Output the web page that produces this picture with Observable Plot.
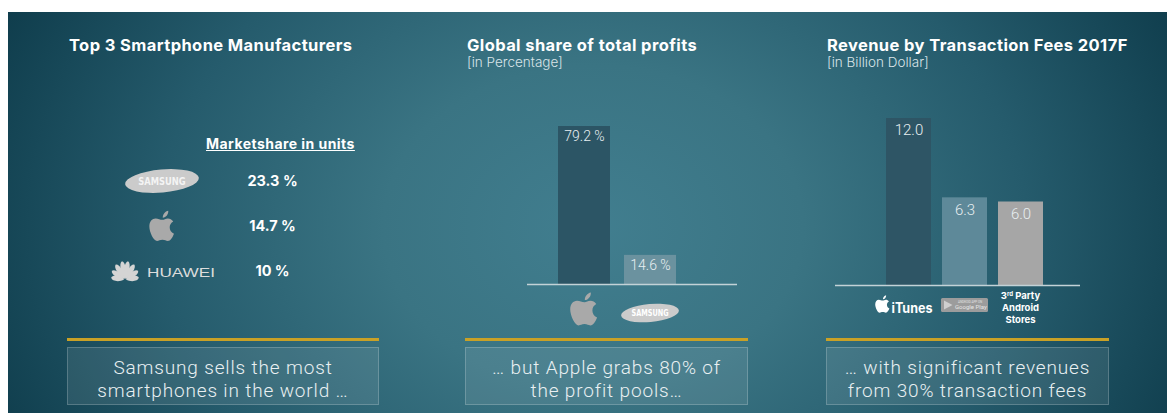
<!DOCTYPE html>
<html><head><meta charset="utf-8">
<script src="https://cdn.jsdelivr.net/npm/d3@7"></script>
<script src="https://cdn.jsdelivr.net/npm/@observablehq/plot@0.6"></script>
<style>
html,body{margin:0;padding:0;background:#fff;}
#root{position:relative;width:1167px;height:413px;overflow:hidden;background:#fff;font-family:Inter,"Noto Sans",sans-serif;}
#bg{position:absolute;left:8px;top:12px;width:1159px;height:401px;
 background:radial-gradient(ellipse 700px 540px at 585px 215px,#417e8f 0%,#3a7483 30%,#255b6c 62%,#0a3645 100%);}
.abs{position:absolute;}
.title{position:absolute;color:#fff;font-weight:700;font-size:16.5px;letter-spacing:0.4px;white-space:nowrap;line-height:18px;}
.sub{position:absolute;color:#d9e4e8;font-weight:300;font-size:13.5px;white-space:nowrap;line-height:14px;}
.gold{position:absolute;height:3px;background:#c9a126;}
.box{position:absolute;box-sizing:border-box;border:1px solid rgba(255,255,255,0.2);background:rgba(255,255,255,0.09);
 color:#e9f0f2;font-family:Roboto,sans-serif;font-weight:300;font-size:19px;letter-spacing:0.85px;line-height:23px;text-align:center;padding-top:8px;white-space:nowrap;}
.hdr{position:absolute;color:#fff;font-weight:700;font-size:14px;text-decoration:underline;white-space:nowrap;letter-spacing:0.45px;line-height:17px;}
</style></head><body>
<div id="root"><div id="bg"></div></div>
<script>
// ---- data ----
const panelTitles = ["Top 3 Smartphone Manufacturers", "Global share of total profits", "Revenue by Transaction Fees 2017F"];
const panelSubtitles = ["", "[in Percentage]", "[in Billion Dollar]"];
const takeaways = [
  ["Samsung sells the most", "smartphones in the world …"],
  ["… but Apple grabs 80% of", "the profit pools…"],
  ["… with significant revenues", "from 30% transaction fees"]
];
const unitHeader = "Marketshare in units";
const unitBrands = ["Samsung", "Apple", "Huawei"];
const unitShare = [23.3, 14.7, 10];
const profitBrands = ["Apple", "Samsung"];
const profitShare = [79.2, 14.6];
const storeNames = ["iTunes", "Google Play", "3rd Party Android Stores"];
const storeRevenue = [12.0, 6.3, 6.0];

const root = document.getElementById("root");

// ---- logo helpers ----
function drawApple(g, cx, cy, h, fill) {
  const s = h / 30;
  const a = g.append("g").attr("transform", `translate(${cx - 11.5 * s},${cy - 15 * s}) scale(${s})`).attr("fill", fill);
  a.append("path").attr("d", "M12 9.4C9.6 9.4 7.9 8 5.6 8.1 2.6 8.2 0 10.7 0 15.3c0 5.6 3.9 13.4 7 13.4 1.7 0 2.5-1.1 4.9-1.1s3.1 1.1 4.9 1.1c2.3 0 4.3-3.3 5.6-6.6-2.8-1.2-3.9-3.6-3.9-5.9 0-2.4 1.3-4.2 3.2-5.3C20.5 8.9 18.6 8.1 16.9 8.1c-2.2 0-3.5 1.3-4.9 1.3Z");
  a.append("path").attr("d", "M12.2 7.6C12 4.6 14.4 1.6 17.2 1.2c.3 3-2 6.2-5 6.4Z");
}
function drawSamsung(g, cx, cy, w, h, textFill) {
  const t = g.append("g").attr("transform", `translate(${cx},${cy})`);
  t.append("ellipse").attr("rx", w / 2).attr("ry", h / 2 - 1).attr("transform", "rotate(-5)").attr("fill", "#cbcbcb");
  t.append("text").attr("text-anchor", "middle").attr("dy", "0.36em")
    .attr("font-size", h * 0.42).attr("font-weight", 700).attr("font-family", "'DejaVu Sans',sans-serif")
    .attr("fill", textFill).attr("textLength", w * 0.64).attr("lengthAdjust", "spacingAndGlyphs").text("SAMSUNG");
}
function drawHuawei(g, cx, cy) {
  const t = g.append("g").attr("transform", `translate(${cx},${cy})`);
  const p = t.append("g").attr("transform", "translate(-37,9)").attr("fill", "#d4d4d4");
  const angles = [-80, -55, -31, -9, 9, 31, 55, 80];
  const lens = [14, 16, 18, 19, 19, 18, 16, 14];
  angles.forEach((ang, i) => {
    const L = lens[i], w = 3.2;
    p.append("path").attr("transform", `rotate(${ang})`)
      .attr("d", `M0 -1C${-w} ${-L * 0.4} ${-w * 1.15} ${-L * 0.92} 0 ${-L}C${w * 1.15} ${-L * 0.92} ${w} ${-L * 0.4} 0 -1Z`);
  });
  t.append("text").attr("x", -15).attr("y", 6).attr("text-anchor", "start").attr("font-size", 13.5).attr("font-family", "'Liberation Sans',sans-serif")
    .attr("fill", "#dcdcdc").attr("textLength", 68).attr("lengthAdjust", "spacingAndGlyphs").text("HUAWEI");
}

function place(el, left, top) {
  const d = document.createElement("div");
  d.className = "abs";
  d.style.left = left + "px"; d.style.top = top + "px";
  d.appendChild(el);
  root.appendChild(d);
}

// ---- titles, subtitles, takeaways ----
const titleX = [69, 467, 827];
panelTitles.forEach((t, i) => {
  const d = document.createElement("div"); d.className = "title";
  d.style.left = titleX[i] + "px"; d.style.top = "36px"; d.textContent = t; root.appendChild(d);
  if (panelSubtitles[i]) {
    const s = document.createElement("div"); s.className = "sub";
    s.style.left = titleX[i] + "px"; s.style.top = "55px"; s.textContent = panelSubtitles[i]; root.appendChild(s);
  }
});
const boxX = [[67, 379], [465, 748], [826, 1109]];
takeaways.forEach((lines, i) => {
  const g = document.createElement("div"); g.className = "gold";
  g.style.left = boxX[i][0] + "px"; g.style.width = (boxX[i][1] - boxX[i][0]) + "px"; g.style.top = "338px";
  root.appendChild(g);
  const b = document.createElement("div"); b.className = "box";
  b.style.left = boxX[i][0] + "px"; b.style.width = (boxX[i][1] - boxX[i][0]) + "px";
  b.style.top = "347px"; b.style.height = "58px";
  b.innerHTML = lines.map(l => `<div>${l}</div>`).join("");
  root.appendChild(b);
});

// ---- left panel: market share table ----
const hdr = document.createElement("div"); hdr.className = "hdr";
hdr.style.left = "206px"; hdr.style.top = "135px"; hdr.textContent = unitHeader; root.appendChild(hdr);

const unitRows = unitBrands.map((b, i) => ({brand: b, share: unitShare[i]}));
const logoLeft = {
  Samsung: (g, x, y) => drawSamsung(g, x, y, 74, 25, "#f4f4f4"),
  Apple: (g, x, y) => drawApple(g, x, y, 33, "#a9a9a9"),
  Huawei: (g, x, y) => drawHuawei(g, x, y)
};
const leftPlot = Plot.plot({
  width: 340, height: 170, margin: 0,
  style: {background: "transparent", overflow: "visible"},
  x: {type: "point", domain: ["logo", "share"], range: [102, 212], padding: 0, axis: null},
  y: {type: "point", domain: unitBrands, range: [56, 146], padding: 0, axis: null},
  marks: [
    Plot.text(unitRows, {x: () => "share", y: "brand", text: d => `${d.share} %`,
      fill: "#ffffff", fontWeight: 700, fontSize: 14.5, fontFamily: "Inter, sans-serif"}),
    (index, scales) => {
      const g = d3.create("svg:g");
      unitBrands.forEach(b => logoLeft[b](g, scales.x("logo"), scales.y(b)));
      return g.node();
    }
  ]
});
place(leftPlot, 60, 125);

// ---- middle panel: profit share ----
const profitRows = profitBrands.map((b, i) => ({brand: b, share: profitShare[i]}));
const midPlot = Plot.plot({
  width: 210, height: 239, marginTop: 26, marginBottom: 55, marginLeft: 0, marginRight: 0,
  style: {background: "transparent", overflow: "visible"},
  x: {type: "band", domain: profitBrands, range: [16, 164], padding: 0.21, axis: null},
  y: {axis: null},
  color: {domain: profitBrands, range: ["#2c5565", "#6b929f"]},
  marks: [
    Plot.barY(profitRows, {x: "brand", y: "share", fill: "brand"}),
    Plot.ruleY([0], {stroke: "#c3d2d7", strokeWidth: 1.5}),
    Plot.text(profitRows, {x: "brand", y: "share", text: d => `${d.share} %`, dy: 10,
      fill: "#e8eff1", fontSize: 14, fontWeight: 300, fontFamily: "Roboto, sans-serif"}),
    (index, scales) => {
      const g = d3.create("svg:g");
      const bw = scales.x.bandwidth ? scales.x.bandwidth() : 0;
      const y0 = scales.y(0);
      drawApple(g, scales.x("Apple") + bw / 2, y0 + 25, 36, "#a9a9a9");
      drawSamsung(g, scales.x("Samsung") + bw / 2, y0 + 29, 58, 20, "#ffffff");
      return g.node();
    }
  ]
});
place(midPlot, 527, 100);

// ---- right panel: revenue by transaction fees ----
const storeRows = storeNames.map((n, i) => ({store: n, revenue: storeRevenue[i]}));
const rightPlot = Plot.plot({
  width: 245, height: 240, marginTop: 18, marginBottom: 55, marginLeft: 0, marginRight: 0,
  style: {background: "transparent", overflow: "visible"},
  x: {type: "band", domain: storeNames, range: [40, 219], padding: 0.196, axis: null},
  y: {axis: null},
  color: {domain: storeNames, range: ["#2e5565", "#5e8999", "#a6a6a6"]},
  marks: [
    Plot.barY(storeRows, {x: "store", y: "revenue", fill: "store"}),
    Plot.ruleY([0], {stroke: "#c3d2d7", strokeWidth: 1.5}),
    Plot.text(storeRows, {x: "store", y: "revenue", text: d => d.revenue.toFixed(1), dy: 12,
      fill: "#e8eff1", fontSize: 15, fontWeight: 300, fontFamily: "Roboto, sans-serif"}),
    (index, scales) => {
      const g = d3.create("svg:g");
      const bw = scales.x.bandwidth ? scales.x.bandwidth() : 0;
      const y0 = scales.y(0);
      // iTunes
      const c1 = scales.x(storeNames[0]) + bw / 2;
      drawApple(g, c1 - 26, y0 + 19, 19, "#ffffff");
      g.append("text").attr("x", c1 - 17).attr("y", y0 + 28).attr("text-anchor", "start").attr("font-size", 14).attr("font-weight", 700)
        .attr("font-family", "Inter, sans-serif").attr("fill", "#fff").attr("textLength", 41).attr("lengthAdjust", "spacingAndGlyphs").text("iTunes");
      // Google Play badge
      const c2 = scales.x(storeNames[1]) + bw / 2;
      const bg = g.append("g").attr("transform", `translate(${c2 - 23.5},${y0 + 13})`).attr("text-anchor", "start");
      bg.append("rect").attr("width", 47).attr("height", 14).attr("rx", 1.5).attr("fill", "#9c9c9c");
      bg.append("path").attr("d", "M3 2.5L3 11.5 11.5 7Z").attr("fill", "#cfcfcf");
      bg.append("text").attr("x", 17).attr("y", 4.5).attr("font-size", 3).attr("fill", "#e0e0e0").attr("font-family", "Roboto, sans-serif").text("ANDROID APP ON");
      bg.append("text").attr("x", 14).attr("y", 10.5).attr("font-size", 6).attr("fill", "#e6e6e6").attr("font-family", "Roboto, sans-serif").text("Google Play");
      // 3rd party
      const c3 = scales.x(storeNames[2]) + bw / 2;
      const t = g.append("text").attr("text-anchor", "middle").attr("font-size", 9.5).attr("font-weight", 700)
        .attr("font-family", "Inter, sans-serif").attr("fill", "#fff");
      const l1 = t.append("tspan").attr("x", c3).attr("y", y0 + 14);
      l1.append("tspan").text("3");
      l1.append("tspan").attr("font-size", 6).attr("dy", -3).text("rd");
      l1.append("tspan").attr("dy", 3).text(" Party");
      t.append("tspan").attr("x", c3).attr("y", y0 + 26).text("Android");
      t.append("tspan").attr("x", c3).attr("y", y0 + 38).text("Stores");
      return g.node();
    }
  ]
});
place(rightPlot, 835, 100);
</script>
</body></html>
